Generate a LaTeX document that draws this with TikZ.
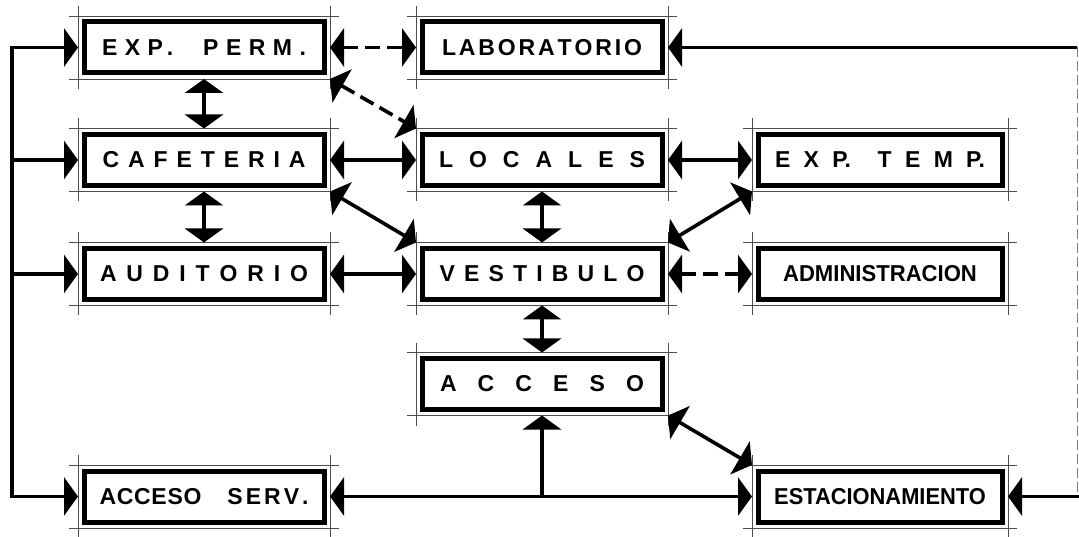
\documentclass[tikz,border=0pt]{standalone}
\usepackage{fontspec}
\setmainfont{Liberation Sans}
\usepackage{graphicx}
\usetikzlibrary{arrows.meta,calc}
\tikzset{
  mbox/.style={draw, line width=5pt, minimum height=51pt, inner sep=0pt, outer sep=6pt,
    font=\bfseries\fontsize{23}{24}\selectfont},
  colA/.style={minimum width=240pt},
  colB/.style={minimum width=240pt},
  colC/.style={minimum width=244pt},
  guide/.style={line width=0.6pt, black!70},
  conn/.style={line width=3.6pt, arrows={-}},
  dconn/.style={conn, dash pattern=on 15pt off 7pt},
  tip/.tip={Triangle[length=14pt,width=38pt]},
}
\newcommand{\spc}[2]{\makebox[#1][s]{#2}}
\begin{document}
\begin{tikzpicture}[x=1pt,y=-1pt]
\fill[white] (0,0) rectangle (1079,537);
\useasboundingbox (0,0) rectangle (1079,537);

% boxes
\node[mbox,colA] (exp) at (204,47.5) {\spc{204pt}{E\hfill X\hfill P\hspace{4pt}.\hfill\hfill\hfill\hfill P\hfill E\hfill R\hfill M\hfill .}};
\node[mbox,colB] (lab) at (542,47.5) {\spc{200pt}{L\hfill A\hfill B\hfill O\hfill R\hfill A\hfill T\hfill O\hfill R\hfill I\hfill O}};
\node[mbox,colA] (caf) at (204,160) {\spc{203pt}{C\hfill A\hfill F\hfill E\hfill T\hfill E\hfill R\hfill I\hfill A}};
\node[mbox,colB] (loc) at (542,160) {\spc{206pt}{L\hfill O\hfill C\hfill A\hfill L\hfill E\hfill S}};
\node[mbox,colC] (tmp) at (880,160) {\spc{210pt}{E\hfill X\hfill P.\hfill\hfill T\hfill E\hfill M\hfill P.}};
\node[mbox,colA] (aud) at (204,274) {\spc{208pt}{A\hfill U\hfill D\hfill I\hfill T\hfill O\hfill R\hfill I\hfill O}};
\node[mbox,colB] (ves) at (542,274) {\spc{205pt}{V\hfill E\hfill S\hfill T\hfill I\hfill B\hfill U\hfill L\hfill O}};
\node[mbox,colC] (adm) at (880,274) {\scalebox{0.96}[1]{ADMINISTRACION}};
\node[mbox,colB] (acc) at (542,384) {\spc{204pt}{A\hfill C\hfill C\hfill E\hfill S\hfill O}};
\node[mbox,colA] (srv) at (204,496.5) {\spc{209pt}{\spc{102pt}{A\hfill C\hfill C\hfill E\hfill S\hfill O}\hfill\spc{81pt}{S\hfill E\hfill R\hfill V\hfill .}}};
\node[mbox,colC] (est) at (880,496.5) {\scalebox{0.95}[1]{ESTACIONAMIENTO}};

% construction lines
\foreach \n in {exp,lab,caf,loc,tmp,aud,ves,adm,acc,srv,est}{
  \draw[guide] ([xshift=-9pt]\n.north west) -- ([xshift=9pt]\n.north east);
  \draw[guide] ([xshift=-9pt]\n.south west) -- ([xshift=9pt]\n.south east);
  \draw[guide] ([yshift=10pt]\n.north west) -- ([yshift=-10pt]\n.south west);
  \draw[guide] ([yshift=10pt]\n.north east) -- ([yshift=-10pt]\n.south east);
}

% bus coordinates
\coordinate (Lx) at (12,0);
\coordinate (Rx) at (1077,0);
\coordinate (Rend) at (1079,0);

% left bus
\draw[conn, line join=miter, tip-tip] (exp.west) -- (Lx |- exp.west) -- (Lx |- srv.west) -- (srv.west);
\draw[conn, -tip] (Lx |- caf.west) -- (caf.west);
\draw[conn, -tip] (Lx |- aud.west) -- (aud.west);

% right bus
\draw[conn, -tip] (Rx |- lab.east) -- (lab.east);
\draw[line width=1pt, black!50, dash pattern=on 10pt off 4pt] (Rx |- lab.east) -- (Rx |- est.east);
\draw[conn, -tip] (Rend |- est.east) -- (est.east);

% horizontal links
\draw[dconn, tip-tip] (exp.east) -- (lab.west);
\draw[conn, tip-tip] (caf.east) -- (loc.west);
\draw[conn, tip-tip] (loc.east) -- (tmp.west);
\draw[conn, tip-tip] (aud.east) -- (ves.west);
\draw[dconn, tip-tip] (ves.east) -- (adm.west);

% vertical links
\draw[conn, tip-tip] (exp.south) -- (caf.north);
\draw[conn, tip-tip] (caf.south) -- (aud.north);
\draw[conn, tip-tip] (loc.south) -- (ves.north);
\draw[conn, tip-tip] (ves.south) -- (acc.north);

% diagonal links
\draw[dconn, tip-tip] (exp.south east) -- (loc.north west);
\draw[conn, tip-tip] (caf.south east) -- (ves.north west);
\draw[conn, tip-tip] (tmp.south west) -- (ves.north east);
\draw[conn, tip-tip] (acc.south east) -- (est.north west);

% bottom line
\draw[conn, tip-tip] (srv.east) -- (est.west);
\draw[conn, -tip] (acc.south |- srv.east) -- (acc.south);
\end{tikzpicture}
\end{document}
